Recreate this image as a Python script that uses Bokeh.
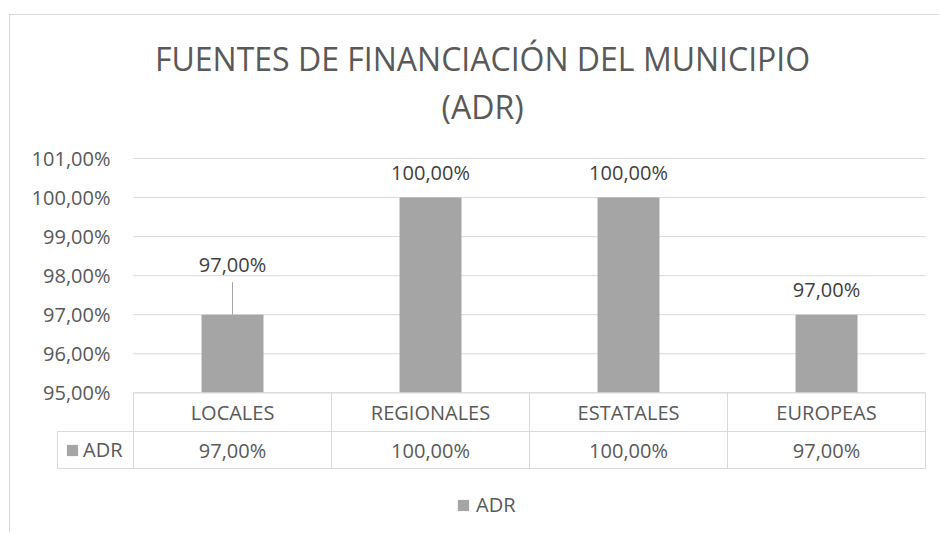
from bokeh.plotting import figure
from bokeh.models import Range1d, FixedTicker, Legend, LegendItem, Label, ColumnDataSource
from bokeh.core.properties import value
from bokeh.embed import file_html
from bokeh.resources import INLINE

# ---------------- data ----------------
title_lines = ["FUENTES DE FINANCIACIÓN DEL MUNICIPIO", "(ADR)"]
categories = ["LOCALES", "REGIONALES", "ESTATALES", "EUROPEAS"]
series_name = "ADR"
adr_values = [97.0, 100.0, 100.0, 97.0]
y_ticks = [95, 96, 97, 98, 99, 100, 101]


def pct(v):
    return f"{v:.2f}".replace(".", ",") + "%"


# ---------------- styles / layout ----------------
GRID = "#D9D9D9"
TEXT = "#595959"
LABEL = "#404040"
BAR = "#A5A5A5"
FONT_NAME = "Open Sans"
FONT = value(FONT_NAME)
FS = "20px"

AXIS_MIN = 95            # value axis minimum (bars start here)
X_START, X_END = -0.394, 4.010
Y_TOP = 104.662          # frame top (room for the title)
Y_BOT = 91.397           # frame bottom (room for data table + legend)
BAR_WIDTH = 0.313
LABEL_GAP = 0.65         # data label distance above bar
LABEL_NUDGE = {"LOCALES": 1.285}   # manually moved label
LEADER_GAP = 0.455
ROW_CAT_Y = 94.50
ROW_VAL_Y = 93.53
TABLE_MID = 94.01
TABLE_BOT = 93.06
TABLE_LEFT = -0.384      # left edge of the series-key cell
TITLE_X = 1.763
TITLE_Y = [103.56, 102.33]

n = len(categories)
centers = [i + 0.5 for i in range(n)]
labels = [pct(v) for v in adr_values]
label_y = [v + LABEL_NUDGE.get(c, LABEL_GAP) for c, v in zip(categories, adr_values)]
src = ColumnDataSource(dict(x=centers, cat=categories, val=adr_values, label=labels, label_y=label_y))

p = figure(
    x_range=Range1d(X_START, X_END),
    y_range=Range1d(Y_BOT, Y_TOP),
    width=930, height=518,
    output_backend="svg", toolbar_location=None,
    x_axis_location=None,
    min_border_left=45, min_border_right=13, min_border_top=0, min_border_bottom=0,
    margin=(14, 0, 0, 9),
    styles={"border-top": f"1px solid {GRID}", "border-left": f"1px solid {GRID}"},
)
p.outline_line_color = None
p.background_fill_color = "white"
p.border_fill_color = "white"
p.xgrid.visible = False
p.ygrid.visible = False

# value axis (labels pushed into the blank left margin of the frame)
p.yaxis.ticker = FixedTicker(ticks=y_ticks)
p.yaxis.major_label_overrides = {t: pct(t) for t in y_ticks}
p.yaxis.axis_line_color = None
p.yaxis.major_tick_line_color = None
p.yaxis.minor_tick_line_color = None
p.yaxis.major_tick_out = 0
p.yaxis.major_tick_in = 0
p.yaxis.major_label_standoff = -55
p.yaxis.major_label_text_font = FONT_NAME
p.yaxis.major_label_text_font_size = FS
p.yaxis.major_label_text_color = TEXT

# horizontal gridlines across the plot area only
p.segment(x0=[0] * len(y_ticks), y0=y_ticks, x1=[n] * len(y_ticks), y1=y_ticks,
          line_color=GRID, line_width=1)

# bars
bars = p.vbar(x="x", top="val", bottom=AXIS_MIN, width=BAR_WIDTH, source=src,
              fill_color=BAR, line_color=None)

# data labels
p.text(x="x", y="label_y", text="label", source=src, text_align="center",
       text_baseline="middle", text_font=FONT, text_font_size=FS, text_color=LABEL)

# leader line for the moved label
lead_x = [x for c, x in zip(categories, centers) if c in LABEL_NUDGE]
lead_y0 = [v for c, v in zip(categories, adr_values) if c in LABEL_NUDGE]
lead_y1 = [y - LEADER_GAP for c, y in zip(categories, label_y) if c in LABEL_NUDGE]
p.segment(x0=lead_x, y0=lead_y0, x1=lead_x, y1=lead_y1, line_color=BAR, line_width=1)

# data table lines
bounds = list(range(n + 1))
p.segment(x0=bounds, y0=[AXIS_MIN] * (n + 1), x1=bounds, y1=[TABLE_BOT] * (n + 1),
          line_color=GRID, line_width=1)
p.segment(x0=[0, TABLE_LEFT, TABLE_LEFT, TABLE_LEFT], y0=[AXIS_MIN, TABLE_MID, TABLE_BOT, TABLE_MID],
          x1=[n, n, n, TABLE_LEFT], y1=[AXIS_MIN, TABLE_MID, TABLE_BOT, TABLE_BOT],
          line_color=GRID, line_width=1)

# data table texts
p.text(x=centers, y=[ROW_CAT_Y] * n, text=categories, text_align="center",
       text_baseline="middle", text_font=FONT, text_font_size=FS, text_color=TEXT)
p.text(x=centers, y=[ROW_VAL_Y] * n, text=labels, text_align="center",
       text_baseline="middle", text_font=FONT, text_font_size=FS, text_color=TEXT)

# title
for t, ty in zip(title_lines, TITLE_Y):
    p.add_layout(Label(x=TITLE_X, y=ty, text=t, text_align="center", text_baseline="middle",
                       text_font=FONT_NAME, text_font_size="32px", text_color=TEXT))

# legend key inside data table
leg_table = Legend(items=[LegendItem(label=series_name, renderers=[bars])],
                   location=(10, 70), padding=0, margin=0, spacing=0,
                   glyph_width=14, glyph_height=14, label_standoff=4,
                   border_line_color=None, background_fill_alpha=0,
                   label_text_font=FONT_NAME, label_text_font_size=FS, label_text_color=TEXT)
p.add_layout(leg_table)

# bottom legend
leg_bottom = Legend(items=[LegendItem(label=series_name, renderers=[bars])],
                    location=(401, 15), padding=0, margin=0, spacing=0,
                    glyph_width=14, glyph_height=14, label_standoff=6,
                    border_line_color=None, background_fill_alpha=0,
                    label_text_font=FONT_NAME, label_text_font_size=FS, label_text_color=TEXT)
p.add_layout(leg_bottom)

open("out.html", "w").write(file_html(p, INLINE))
